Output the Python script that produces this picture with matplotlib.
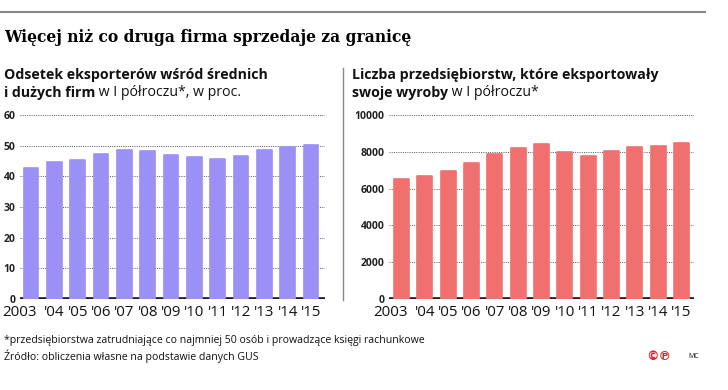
import matplotlib
matplotlib.use('Agg')
import matplotlib.pyplot as plt
from matplotlib import transforms

plt.rcParams['font.family'] = ['Open Sans', 'DejaVu Sans']

years = ['2003', "'04", "'05", "'06", "'07", "'08", "'09", "'10", "'11", "'12", "'13", "'14", "'15"]
share = [42.6, 44.6, 45.3, 47.3, 48.7, 48.2, 47.0, 46.4, 45.8, 46.7, 48.7, 49.7, 50.2]
exporters = [6520, 6700, 6960, 7370, 7860, 8220, 8420, 7970, 7770, 8060, 8260, 8300, 8460]

left_ticks = [0, 10, 20, 30, 40, 50, 60]
right_ticks = [0, 2000, 4000, 6000, 8000, 10000]

W, H = 728, 390
fig = plt.figure(figsize=(W / 100, H / 100), dpi=100)


def px(x, y):
    # pixel coords (from top-left) -> figure fraction
    return x / W, 1 - y / H


def make_axes(x0, x1, ytop, ybot, top_val, ymax):
    h = (ybot - ytop) * ymax / top_val
    return fig.add_axes([x0 / W, 1 - ybot / H, (x1 - x0) / W, h / H])


def draw(ax, vals, color, ticks, xlim):
    xs = range(len(vals))
    ax.bar(xs, vals, width=0.64, color=color, edgecolor=color, linewidth=1.2,
           joinstyle='round', zorder=2)
    ax.axhline(0, color='#1a1a1a', lw=2.6, zorder=1.5)
    ax.set_xlim(*xlim)
    ax.set_ylim(0, ticks[-1] * 1.01)
    ax.set_yticks(ticks)
    ax.set_yticklabels([str(t) for t in ticks], fontsize=7.5, fontweight='bold', color='#222222')
    ax.set_xticks(list(xs))
    ax.set_xticklabels(years, fontsize=10.8, color='#111111')
    ax.tick_params(axis='both', length=0)
    ax.tick_params(axis='y', pad=3)
    ax.tick_params(axis='x', pad=4)
    for s in ax.spines.values():
        s.set_visible(False)
    ax.yaxis.grid(True, linestyle=(0, (1, 1.3)), color='#555555', lw=0.7, zorder=0)
    ax.set_axisbelow(True)
    lbl = ax.get_xticklabels()[0]
    lbl.set_transform(lbl.get_transform() + transforms.ScaledTranslation(-0.11, 0, fig.dpi_scale_trans))


ax1 = make_axes(20, 325, 115, 299, 60, 60 * 1.01)
draw(ax1, share, '#9b90f6', left_ticks, (-0.47, 12.6))

ax2 = make_axes(389, 694, 115, 299, 10000, 10000 * 1.01)
draw(ax2, exporters, '#f07070', right_ticks, (-0.54, 12.54))

# top rule and separator
fig.add_artist(plt.Line2D([0, 705 / W], [1 - 12 / H] * 2, color='#888888', lw=1.5))
fig.add_artist(plt.Line2D([343 / W] * 2, [1 - 68 / H, 1 - 300 / H], color='#888888', lw=1))

fig.text(*px(4, 37), 'Więcej niż co druga firma sprzedaje za granicę', family='DejaVu Serif',
         fontsize=11.2, fontweight='bold', va='center', color='#000000')

renderer = fig.canvas.get_renderer()


def rich(x, y, parts, size):
    for txt, bold in parts:
        t = fig.text(*px(x, y), txt, fontsize=size, fontweight='bold' if bold else 'normal',
                     va='center', color='#111111')
        bb = t.get_window_extent(renderer)
        x += bb.width


rich(4, 75, [('Odsetek eksporterów wśród średnich', True)], 10.2)
rich(4, 93, [('i dużych firm', True), (' w I półroczu*, w proc.', False)], 10.2)
rich(352, 75, [('Liczba przedsiębiorstw, które eksportowały', True)], 10.2)
rich(352, 93, [('swoje wyroby', True), (' w I półroczu*', False)], 10.2)

fig.text(*px(4, 340), '*przedsiębiorstwa zatrudniające co najmniej 50 osób i prowadzące księgi rachunkowe',
         fontsize=7.6, va='center', color='#111111')
fig.text(*px(4, 356), 'Źródło: obliczenia własne na podstawie danych GUS',
         fontsize=7.6, va='center', color='#111111')
fig.text(*px(646, 356), '©℗', fontsize=9, fontweight='bold', va='center', color='#e8202a',
         family=['DejaVu Sans'])
fig.text(*px(688, 356), 'MC', fontsize=5, va='center', color='#111111')

fig.savefig('out.png', dpi=100, facecolor='white')
